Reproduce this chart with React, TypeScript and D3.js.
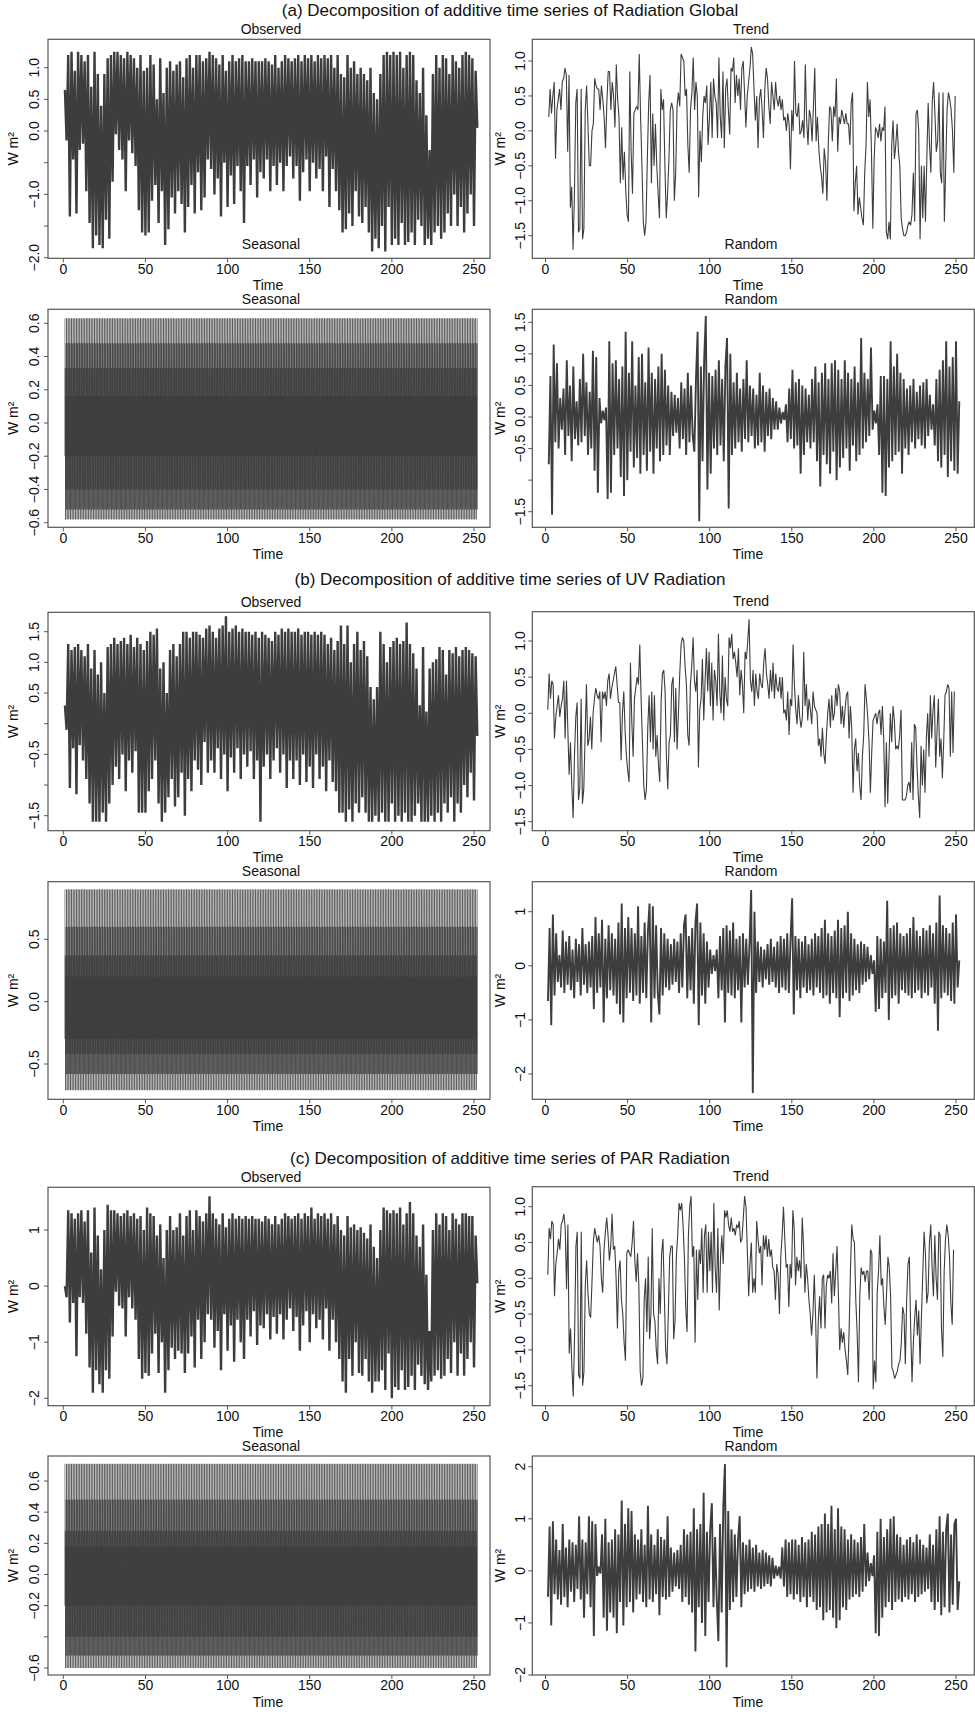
import React from "react";
import * as d3 from "d3";

const FONT = "'Liberation Sans', Arial, Helvetica, sans-serif";
const INK = "#3d3d3d";

const timeTicks = [0, 50, 100, 150, 200, 250];
const groupTitles = [
  "(a) Decomposition of additive time series of Radiation Global",
  "(b) Decomposition of additive time series of UV Radiation",
  "(c) Decomposition of additive time series of PAR Radiation",
];
const panelTitles = ["Observed", "Trend", "Seasonal", "Random"];

// ---------- (a) Radiation Global ----------
const obsA = [
  0.65,-0.15,1.2,-1.35,1.25,-0.45,0.95,-1.3,1.25,-0.3,
  1.2,-0.2,1.1,-0.95,1.2,-1.45,0.7,-1.85,1.25,-1.65,
  0.9,-1.8,0.4,-1.85,0.9,-1.4,1.15,-1.7,1.2,-0.8,
  1.25,-0.05,1.25,-0.3,1.2,-0.45,1.15,-0.95,1.25,-0.15,
  1.2,-0.35,1.15,-0.55,1.0,-1.25,1.2,-1.6,0.95,-1.65,
  1.0,-1.6,1.2,-1.1,1.05,-0.85,0.5,-1.45,1.15,-0.95,
  0.6,-1.8,1.0,-1.55,1.1,-1.05,0.95,-1.3,1.05,-0.95,
  1.1,-1.15,0.85,-1.6,1.15,-1.2,1.2,-0.85,1.0,-1.3,
  1.2,-0.65,1.2,-1.25,1.1,-1.05,1.15,-0.45,1.25,-0.6,
  1.2,-1.0,1.15,-0.75,1.05,-1.35,1.2,-0.5,0.95,-1.2,
  1.1,-0.7,1.2,-1.15,1.1,-0.55,1.15,-0.95,1.2,-1.45,
  1.1,-0.55,1.1,-0.85,1.15,-0.45,1.1,-1.05,1.1,-0.65,
  1.1,-0.75,1.15,-0.45,1.1,-0.95,1.05,-0.55,1.2,-0.85,
  1.0,-0.5,1.1,-0.95,1.2,-0.55,1.15,-0.4,1.1,-0.75,
  1.15,-0.55,1.2,-1.1,1.1,-0.65,1.2,-0.45,1.15,-0.95,
  1.2,-0.5,1.1,-0.75,1.2,-0.6,1.15,-0.95,1.2,-0.4,
  1.15,-1.2,1.2,-0.6,1.0,-0.95,1.2,-1.25,0.9,-1.6,
  0.85,-1.55,1.2,-1.3,1.0,-1.5,1.1,-0.95,0.9,-1.35,
  1.0,-1.45,0.9,-1.2,0.8,-1.6,1.0,-1.9,0.6,-1.7,
  0.5,-1.85,0.9,-1.5,1.2,-1.9,1.25,-1.2,1.2,-1.8,
  1.25,-1.7,1.2,-1.8,1.25,-1.45,1.0,-1.8,1.2,-1.75,
  1.25,-1.6,1.2,-1.8,0.8,-1.4,0.6,-1.5,1.0,-1.8,
  0.25,-1.7,-0.3,-1.8,0.9,-1.6,1.2,-1.5,1.0,-1.7,
  1.2,-1.6,1.15,-1.3,0.9,-1.5,1.2,-1.0,1.1,-1.5,
  1.0,-1.2,1.2,-1.6,1.25,-1.3,1.2,-1.0,1.15,-1.5,
  0.95,0.05,
];
const trendA = [
  0.2,0.6,0.25,0.5,0.7,-0.4,0.3,0.45,0.6,0.3,
  0.7,0.75,0.9,0.8,-0.3,0.8,-1.1,-0.8,-1.7,-0.9,
  0.4,0.6,-1.45,-1.4,0.6,-1.55,-1.4,0.3,0.65,0.1,
  -0.5,-0.5,0.0,0.1,0.75,0.65,0.6,0.6,0.3,0.65,
  0.45,0.2,-0.25,0.4,0.85,0.85,0.3,0.7,0.5,0.05,
  0.95,0.45,0.2,-0.75,0.05,-0.7,-0.3,-0.85,-1.2,-1.3,
  0.85,-0.3,-0.9,0.25,0.3,0.35,0.3,1.1,0.2,-0.5,
  -1.3,-1.5,-1.3,-0.4,0.4,0.8,-0.75,0.25,-0.5,0.1,
  -0.5,-0.9,-1.25,0.6,0.3,0.45,-0.5,-1.25,-0.9,-0.4,
  0.3,0.4,0.3,-1.0,-0.6,0.35,0.55,0.35,1.1,1.05,
  1.0,0.5,0.6,-0.2,-0.6,0.3,0.55,1.05,0.3,0.7,
  0.5,-0.95,0.0,-0.45,0.2,0.5,0.4,0.65,-0.2,0.2,
  0.7,-0.1,0.75,0.5,0.4,-0.1,1.05,0.2,-0.1,0.85,
  -0.25,0.6,0.75,0.3,-0.05,0.9,0.85,1.05,0.4,0.8,
  0.5,0.75,0.3,0.9,1.0,0.55,0.05,0.5,0.7,0.9,
  1.2,1.1,0.6,0.15,0.5,-0.25,0.45,0.6,0.3,-0.1,
  0.6,0.9,0.75,0.35,0.1,0.7,0.5,0.3,0.7,0.45,
  0.35,0.5,0.3,0.45,0.15,0.2,0.0,0.25,0.1,-0.55,
  0.3,0.0,1.0,0.25,0.2,0.4,-0.05,0.0,0.15,-0.1,
  0.95,0.15,-0.2,0.3,0.2,-0.15,0.35,0.9,-0.15,0.2,
  -0.25,-0.5,-0.65,-0.9,-0.25,-0.45,-1.0,-0.2,0.35,0.3,
  -0.15,0.35,0.2,0.75,-0.3,0.2,0.1,0.3,0.2,0.1,
  0.25,0.1,0.1,-0.2,0.4,0.55,-1.15,-0.75,-0.5,-1.2,
  -0.95,-1.1,-1.25,-1.35,-0.6,-0.2,0.7,0.2,0.45,-0.3,
  -1.4,-0.4,0.05,0.0,-0.1,0.1,-0.15,0.05,0.0,0.35,
  -1.45,-1.55,-1.3,-1.55,-0.2,0.15,-0.4,-0.2,0.1,-0.3,
  -0.5,-1.25,-1.4,-1.5,-1.5,-1.45,-1.35,-1.3,-1.35,-1.2,
  -0.6,-1.3,0.25,0.3,0.0,-1.55,-0.5,-1.25,-0.5,-1.3,
  -0.4,0.4,-0.2,-0.6,0.4,0.7,0.25,-0.3,-0.15,0.55,
  -0.6,-0.75,0.55,-1.3,-0.5,0.3,0.55,0.45,0.3,0.0,
  -0.6,0.5,
];
const seasonCycleA = [0.63, -0.2, 0.33, -0.58, 0.16, -0.4, 0.48, -0.52];
const randomA = [
  -0.75,0.65,-1.55,1.15,-0.4,0.85,-0.5,0.3,-0.2,0.45,
  -0.6,0.9,-0.3,0.5,-0.7,0.8,-0.35,0.25,-0.45,0.6,
  -0.4,1.0,-0.3,0.55,-0.6,0.4,-0.5,1.05,-0.85,0.95,
  -1.2,0.3,-0.1,0.1,-0.05,0.15,-1.3,1.2,-1.2,0.85,
  -0.6,0.9,-0.5,0.6,-0.95,0.8,-1.25,1.35,-1.0,0.7,
  -0.55,1.2,-0.8,0.5,-0.65,0.95,-0.9,1.0,-0.6,0.55,
  -0.85,1.1,-0.55,0.7,-0.9,0.6,-0.5,0.8,-0.7,1.0,
  -0.6,0.75,-0.45,0.5,-0.6,0.4,-0.3,0.35,-0.25,0.3,
  -0.5,0.55,-0.35,0.45,-0.6,0.7,-0.4,0.5,-0.3,-0.55,
  0.6,1.35,-1.65,0.8,-0.7,0.9,1.6,-1.15,0.7,-0.9,
  0.65,-0.5,0.75,-0.6,0.9,-0.45,0.6,-0.7,0.8,1.25,
  -1.45,1.0,-0.6,0.55,-0.5,0.7,-0.4,0.45,-0.55,0.6,
  -0.35,0.9,-0.4,0.5,-0.3,0.45,-0.5,0.35,-0.45,0.7,
  -0.4,0.5,-0.55,0.4,-0.3,0.45,-0.35,0.3,-0.2,0.25,
  -0.2,0.15,-0.1,0.08,-0.05,0.2,-0.4,0.45,-0.35,0.75,
  -0.5,0.55,-0.45,0.6,-0.9,0.5,-0.6,0.45,-0.4,0.35,
  -0.5,0.6,-0.4,0.8,-0.7,0.55,-1.1,0.7,-0.6,0.85,
  -0.75,0.6,-0.9,0.85,-0.55,0.9,-1.0,0.75,-0.8,0.6,
  -0.65,0.9,-0.5,0.7,-0.85,0.6,-0.45,0.8,-0.7,0.55,
  -0.6,1.25,-0.5,0.7,-0.4,0.6,-0.3,1.1,-0.2,0.1,
  -0.1,0.2,-0.6,0.65,-1.2,0.65,-1.25,0.6,-0.8,1.2,
  -0.7,0.8,-0.6,1.0,-0.55,0.7,-0.9,0.6,-0.5,0.45,
  -0.6,0.5,-0.4,0.6,-0.5,0.4,-0.35,0.5,-0.45,0.55,
  -0.5,0.6,-0.3,0.35,-0.2,0.2,-0.45,0.6,-0.7,0.75,
  -0.8,0.9,-0.6,1.2,-0.95,0.8,-0.7,0.95,-0.85,1.2,
  -0.9,0.25,
];

// ---------- (b) UV Radiation ----------
const obsB = [
  0.3,-0.1,1.3,-1.05,1.2,-0.4,1.25,-1.15,1.3,-0.35,
  1.2,-0.6,1.1,-0.9,1.3,-1.3,0.9,-1.6,1.2,-1.6,
  0.8,-1.6,1.0,-1.45,0.5,-1.6,1.25,-1.3,1.3,-1.0,
  1.4,-0.7,1.3,-0.9,1.35,-0.5,1.4,-1.1,1.3,-0.6,
  1.45,-0.8,1.25,-0.45,1.4,-1.45,1.3,-1.45,1.2,-1.45,
  1.35,-1.1,1.5,-0.9,1.45,-0.6,1.55,-1.3,0.9,-1.6,
  1.0,-1.45,0.5,-1.2,1.2,-0.9,1.3,-1.35,1.1,-1.2,
  1.3,-0.8,1.5,-1.5,1.5,-0.9,1.4,-1.1,1.5,-0.6,
  1.5,-0.75,1.45,-1.0,1.4,-0.3,1.55,-0.8,1.6,-0.6,
  1.5,-0.8,1.4,-0.4,1.55,-0.9,1.6,-0.5,1.75,-1.1,
  1.5,-0.55,1.55,-0.8,1.6,-0.4,1.5,-0.9,1.55,-0.5,
  1.5,-0.7,1.5,-0.45,1.45,-0.9,1.5,-0.6,1.4,-1.6,
  1.5,-0.7,1.45,-0.5,1.4,-0.9,1.35,-0.6,1.5,-0.4,
  1.45,-0.8,1.55,-0.5,1.5,-1.05,1.55,-0.6,1.5,-0.9,
  1.5,-0.6,1.55,-1.0,1.45,-0.5,1.5,-0.95,1.5,-0.7,
  1.45,-1.05,1.5,-0.5,1.45,-0.9,1.5,-0.7,1.45,-1.1,
  1.3,-0.6,1.4,-0.95,1.2,-1.1,1.35,-1.45,1.6,-1.45,
  1.3,-1.6,1.6,-1.4,1.0,-1.6,1.3,-1.3,1.5,-1.45,
  1.2,-1.2,1.35,-1.45,1.1,-1.6,0.6,-1.6,0.4,-1.5,
  0.6,-1.6,1.5,-1.45,1.3,-1.6,1.0,-1.6,1.25,-1.3,
  1.35,-1.6,1.4,-1.5,1.3,-1.6,1.35,-1.45,1.65,-1.6,
  1.3,-1.6,1.15,-1.5,0.9,-1.3,0.3,-1.6,1.25,-1.6,
  0.2,-1.6,0.9,-1.5,1.0,-1.6,1.05,-1.45,1.25,-1.6,
  1.2,-1.3,0.8,-1.45,1.2,-1.2,1.15,-1.6,1.25,-1.3,
  1.1,-1.45,1.2,-1.0,1.25,-1.2,1.2,-0.8,1.15,-1.25,
  1.1,-0.2,
];
const trendB = [
  0.05,0.55,0.2,0.45,0.4,-0.35,-0.05,0.1,0.25,-0.05,
  0.1,0.2,0.45,-0.35,0.45,-0.2,-0.85,-0.4,-1.0,-1.45,
  -0.6,-0.05,0.15,-1.2,-1.05,0.2,-1.25,-1.05,-0.3,0.4,
  -0.45,-0.35,-0.05,-0.5,0.0,0.2,0.35,0.25,0.2,0.3,
  -0.4,0.3,0.2,0.3,0.1,0.45,0.55,0.2,0.35,0.45,
  0.55,0.65,0.4,0.15,0.15,-0.65,0.0,0.3,-0.25,-0.6,
  -0.8,-0.95,0.7,-0.1,-0.6,0.2,0.35,0.5,0.4,0.95,
  0.2,-0.4,-1.0,-1.2,-1.05,-0.2,0.25,-0.4,0.3,-0.5,
  0.25,-0.6,-0.3,-0.7,-0.95,0.15,0.55,0.6,0.3,-0.6,
  -1.05,-0.4,-0.3,0.4,0.5,-0.4,0.35,-0.5,0.0,0.55,
  0.95,1.05,1.0,0.65,0.4,-0.3,-0.45,0.4,0.65,1.05,
  0.45,0.3,0.6,-0.75,0.05,0.2,0.75,-0.1,0.45,0.9,
  0.3,0.85,0.1,0.7,-0.1,0.6,0.45,0.1,1.1,0.3,
  0.0,0.8,-0.1,0.5,0.2,0.1,1.05,0.9,1.1,0.75,
  0.85,0.7,0.5,0.9,0.25,0.6,0.4,0.0,0.85,0.75,
  1.0,1.3,0.45,0.3,0.6,0.1,0.55,0.3,0.2,0.55,
  0.4,0.35,0.7,0.9,0.55,0.4,0.2,0.6,0.3,0.7,
  0.2,0.55,0.35,0.3,0.5,0.2,0.5,0.0,0.05,-0.1,
  0.3,-0.3,0.2,0.1,0.95,0.4,0.05,-0.15,0.25,-0.05,
  -0.2,-0.05,0.85,0.1,0.4,-0.1,0.2,0.05,-0.15,0.3,
  0.1,0.05,0.0,-0.45,-0.35,-0.6,-0.2,-0.55,-0.7,-0.3,
  0.0,0.2,-0.2,0.25,-0.1,0.0,0.35,0.1,0.4,0.3,
  -0.15,0.1,-0.2,0.05,0.25,0.3,-0.35,0.1,-0.2,-1.1,
  -0.5,-0.35,-0.8,-0.55,-1.0,-1.2,-0.6,-0.3,0.4,0.2,
  -0.05,-0.4,-1.1,-0.55,-0.1,-0.05,0.0,-0.15,0.0,0.05,
  -0.3,0.1,-0.35,-1.3,-0.4,-1.25,-0.6,0.0,-0.4,0.1,
  -0.1,-0.5,-0.45,-0.5,-0.3,0.05,-1.2,-1.2,-1.2,-1.15,
  -1.0,-0.95,-1.1,-0.4,-1.2,-0.15,-0.2,-0.75,-1.15,-1.45,
  -0.45,-1.0,-0.5,-1.1,-0.35,0.0,-0.6,0.25,-0.35,0.05,
  0.25,-0.75,-0.25,0.2,-0.6,-0.35,-0.9,-0.4,0.25,0.3,
  0.4,0.35,-0.6,0.3,-0.55,0.3,
];
const seasonCycleB = [0.9, -0.3, 0.37, -0.71, 0.2, -0.42, 0.6, -0.58];
const randomB = [
  -0.65,0.7,-1.1,0.95,-0.55,0.6,-0.3,0.2,-0.4,0.65,
  -0.5,0.45,-0.35,0.55,-0.45,0.3,-0.6,0.5,-0.3,0.4,
  -0.55,0.7,-0.35,0.4,-0.5,0.45,-0.4,0.55,-0.8,0.9,
  -0.5,0.6,-0.4,0.85,-1.05,0.5,-0.6,0.75,-0.45,0.6,
  -0.55,0.5,-0.7,0.8,-0.9,1.15,-1.05,0.7,-0.6,0.9,
  -0.5,0.7,-0.65,0.6,-0.55,1.1,-0.7,0.55,-0.5,0.8,
  -0.6,0.65,1.15,-1.05,1.1,-0.6,0.75,-0.5,-0.9,0.7,
  -0.55,0.6,-0.4,0.5,-0.45,0.4,-0.35,0.5,-0.3,0.45,
  -0.5,0.6,-0.4,0.75,0.95,-0.6,0.55,-0.45,0.7,-0.7,
  0.8,1.15,-1.1,0.8,-0.55,0.6,-0.7,0.45,-0.4,0.3,
  -0.15,0.2,-0.1,0.3,-0.6,0.55,-0.45,0.7,-1.05,0.75,
  -0.5,0.65,-0.55,0.8,-0.6,0.5,-0.45,0.55,-1.05,0.6,
  -0.4,0.5,-0.35,0.4,1.4,-2.35,1.0,-0.5,0.45,-0.3,
  0.35,-0.4,0.3,-0.25,0.4,-0.35,0.5,-0.3,0.35,-0.4,
  0.45,-0.5,0.55,-0.4,0.5,-0.45,0.6,-0.5,0.45,1.25,
  -0.9,0.55,-0.45,0.5,-0.6,0.45,-0.4,0.55,-0.5,0.4,
  -0.45,0.5,-0.55,0.6,-0.4,0.55,-0.5,0.7,-0.6,0.85,
  -0.55,0.6,-0.7,0.55,-0.5,0.65,-0.6,0.85,-0.95,0.7,
  -0.6,0.75,-0.5,1.0,-0.65,0.6,-0.55,0.5,-0.45,0.4,
  -0.5,0.45,-0.35,0.4,-0.3,0.35,-0.25,0.2,-0.15,0.1,
  -0.85,0.55,-0.8,0.5,-0.6,0.45,-0.5,1.2,-1.0,0.7,
  -0.6,0.75,-0.55,0.8,-0.7,0.6,-0.45,0.55,-0.5,0.6,
  -0.55,0.7,-0.6,0.9,-0.5,0.65,-0.45,0.55,-0.6,0.7,
  -0.5,0.65,-0.55,0.75,-0.4,0.6,-0.7,0.8,-1.2,1.3,
  -0.6,0.75,-0.5,0.7,-0.55,0.6,-0.65,0.8,-0.7,0.95,
  -0.4,0.1,
];

// ---------- (c) PAR Radiation ----------
const obsC = [
  0.0,-0.2,1.35,-0.65,1.3,-0.3,1.2,-1.25,1.3,-0.2,
  1.35,-0.3,1.15,-0.85,1.35,-1.45,0.6,-1.9,1.4,-1.5,
  0.9,-1.75,0.3,-1.9,1.0,-1.5,1.45,-1.65,1.35,-0.9,
  1.35,-0.1,1.3,-0.35,1.25,-0.4,1.3,-0.9,1.35,-0.2,
  1.25,-0.4,1.3,-0.6,1.2,-1.3,1.25,-1.65,1.0,-1.55,
  1.4,-1.6,1.3,-1.2,1.25,-0.85,0.9,-1.55,1.1,-1.0,
  0.5,-1.9,1.0,-1.5,1.25,-1.1,1.0,-1.3,1.05,-1.15,
  1.3,-1.2,0.9,-1.55,1.25,-1.2,1.35,-0.9,1.0,-1.45,
  1.35,-0.6,1.25,-1.3,1.15,-1.0,1.3,-0.5,1.6,-0.6,
  1.3,-1.1,1.2,-0.8,1.1,-1.5,1.3,-0.5,1.05,-1.15,
  1.2,-0.7,1.3,-1.35,1.2,-0.6,1.25,-1.0,1.2,-1.3,
  1.25,-0.6,1.2,-0.9,1.25,-0.45,1.2,-1.05,1.2,-0.7,
  1.15,-0.75,1.25,-0.5,1.2,-0.95,1.1,-0.55,1.25,-0.85,
  1.1,-0.5,1.2,-0.95,1.3,-0.6,1.25,-0.4,1.2,-0.8,
  1.25,-0.55,1.3,-1.15,1.2,-0.7,1.3,-0.45,1.25,-1.0,
  1.4,-0.5,1.2,-0.75,1.3,-0.6,1.25,-0.95,1.3,-0.4,
  1.2,-1.15,1.3,-0.6,1.1,-1.0,1.25,-1.3,1.0,-1.7,
  0.9,-1.9,1.25,-1.3,1.05,-1.6,1.1,-1.0,1.0,-1.55,
  1.05,-1.6,0.95,-1.3,0.85,-1.7,1.1,-1.9,0.7,-1.7,
  0.5,-1.7,1.0,-1.5,1.4,-1.85,1.35,-1.2,1.3,-2.0,
  1.35,-1.8,1.3,-1.85,1.4,-1.5,1.1,-1.85,1.3,-1.8,
  1.5,-1.6,1.3,-1.85,0.9,-1.4,0.7,-1.6,1.1,-1.75,
  0.2,-1.85,-0.8,-1.7,1.0,-1.6,1.3,-1.5,1.1,-1.65,
  1.3,-1.6,1.25,-1.3,1.0,-1.55,1.3,-1.0,1.2,-1.6,
  1.1,-1.2,1.3,-1.6,1.3,-1.3,1.25,-1.0,1.25,-1.45,
  0.9,0.05,
];
const trendC = [
  0.05,0.7,0.55,0.8,0.75,-0.25,0.2,0.35,0.55,0.4,
  0.75,0.8,0.9,0.7,-0.15,0.75,-1.05,-0.7,-1.25,-1.65,
  -0.8,0.45,0.65,-1.35,-1.4,0.65,-1.5,-1.3,-0.1,0.25,
  -0.2,-0.5,-0.55,-0.05,0.5,0.7,0.6,0.5,0.6,0.45,
  0.0,-0.2,0.4,0.65,0.85,0.6,0.25,0.45,0.9,0.4,
  0.45,0.0,-0.7,0.1,0.25,-0.3,-0.5,-0.9,-1.15,0.35,
  0.4,0.35,0.3,0.5,0.8,0.25,-0.05,0.35,-0.1,-1.3,
  -1.5,-1.4,-0.3,0.0,-0.75,0.3,-0.85,-0.5,0.7,-0.5,
  -0.6,-1.0,-1.2,0.0,-0.5,0.35,0.55,-0.2,-1.0,-1.2,
  -0.5,0.3,0.45,0.45,-0.85,-0.6,0.3,0.6,1.05,0.95,
  1.05,0.75,0.3,-0.4,-0.75,0.6,1.0,1.15,0.3,0.45,
  -0.9,0.4,-0.3,0.4,0.2,0.7,-0.2,0.6,0.75,-0.2,
  0.65,0.1,0.65,-0.2,1.05,0.15,-0.2,0.7,-0.45,0.3,
  0.6,0.2,0.95,0.85,0.95,0.75,0.65,0.85,0.65,0.7,
  0.6,0.75,0.7,0.8,0.5,0.55,0.85,1.15,1.0,0.4,
  -0.25,0.2,0.5,-0.2,0.0,-0.2,0.8,0.55,0.35,0.45,
  -0.1,0.6,0.4,0.6,0.3,0.55,0.3,0.4,0.15,0.1,
  -0.3,0.2,0.05,-0.5,0.3,0.6,1.0,0.55,0.15,0.2,
  -0.4,0.2,0.0,0.95,0.7,-0.1,0.3,0.1,0.25,0.0,
  0.85,0.45,-0.2,0.2,0.0,-0.3,-0.5,-0.8,-0.5,0.05,
  -0.55,-1.4,-0.6,-0.25,-0.7,0.0,0.05,-0.7,-0.1,0.05,
  0.0,0.1,-0.35,0.35,-0.25,0.1,0.45,-0.2,-1.0,-0.7,
  -0.9,-0.75,-1.0,-1.15,-1.35,-0.75,0.1,0.75,0.55,0.5,
  -0.3,-0.75,-1.45,-0.25,0.15,0.05,0.1,-0.05,0.1,0.1,
  -0.3,0.4,0.35,-1.55,-1.15,-1.45,-0.2,0.1,0.6,-0.1,
  0.0,-0.4,-0.65,-0.2,0.3,0.15,-0.25,-1.25,-1.3,-1.4,
  -1.35,-1.3,-1.2,-1.15,-0.9,-0.4,-0.5,-1.2,-0.3,0.2,
  0.3,-0.7,-1.45,-0.9,-0.55,-0.3,-0.8,-0.45,-1.2,-0.55,
  0.05,0.65,0.35,-0.35,-0.2,0.5,0.75,0.15,-0.25,0.6,
  0.0,-0.3,0.65,0.6,-0.7,-1.1,0.1,0.55,0.75,0.6,
  0.3,-0.35,-0.65,0.4,
];
const seasonCycleC = [0.71, -0.2, 0.28, -0.6, 0.18, -0.4, 0.48, -0.52];
const randomC = [
  -0.5,0.85,-1.05,0.95,-0.45,0.6,-0.55,0.4,-0.65,0.9,
  -0.5,0.45,-0.7,0.6,-0.4,0.55,-0.6,0.5,-0.35,1.05,
  -0.55,0.6,-0.9,0.55,-0.45,1.05,-0.7,0.95,-1.25,0.9,
  -0.1,0.08,-0.05,0.7,-0.9,1.0,-1.15,0.55,-0.8,0.6,
  -0.9,0.8,-1.2,0.7,-0.6,1.35,-1.05,0.9,-0.7,1.2,
  -0.6,1.15,-0.8,0.7,-0.55,0.6,-0.45,0.8,-0.6,0.5,
  -0.7,1.25,-0.55,0.7,-0.6,0.5,-0.45,0.8,-0.85,0.65,
  -0.5,0.6,-0.55,1.05,-0.5,0.45,-0.4,0.35,-0.3,0.4,
  -0.35,0.5,-0.6,0.8,-0.5,0.7,-0.65,0.75,-0.8,1.2,
  -1.55,0.8,-0.7,0.9,-1.0,1.5,-1.25,0.75,-0.6,0.8,
  1.3,-0.7,0.65,-0.55,-1.35,0.9,-0.8,1.25,2.05,-1.85,
  1.15,-0.75,0.8,-0.6,0.7,-0.5,0.6,1.05,-0.7,0.55,
  -0.45,0.5,-0.4,0.6,-0.35,0.45,-0.4,0.5,-0.3,0.35,
  -0.35,0.4,-0.3,0.35,-0.25,0.3,-0.3,0.25,-0.15,0.1,
  -0.1,0.08,-0.15,0.45,-0.3,0.6,-0.5,0.55,-0.45,0.6,
  -0.55,0.6,-0.45,0.5,-0.6,0.65,-0.5,0.55,-0.7,0.6,
  -0.5,0.75,-0.6,0.7,-0.75,0.85,-0.7,0.9,-0.95,1.1,
  -0.8,0.9,-0.75,1.25,-0.9,0.8,-1.1,1.2,-0.95,0.85,
  -0.7,0.8,-0.75,0.6,-0.55,0.7,-0.5,0.6,-0.45,0.55,
  -0.5,0.65,-0.4,0.9,-0.3,0.35,-0.2,0.15,-0.1,0.3,
  -1.2,0.75,-1.25,1.0,-0.9,0.65,-0.7,0.8,-0.6,1.0,
  -0.75,1.05,-0.6,0.7,-0.55,0.65,-0.6,0.5,-0.5,0.6,
  -0.55,0.65,-0.45,0.55,-0.6,0.7,-0.5,0.6,-0.45,0.5,
  -0.4,0.45,-0.35,0.7,-0.6,0.5,-0.75,0.8,-0.6,1.05,
  -0.85,0.75,-0.7,0.8,1.1,-0.8,0.7,-0.65,0.9,1.0,
  -0.75,-0.2,
];

// y tick sets (values) and which ones carry a label
const ticksObsA = [-2, -1.5, -1, -0.5, 0, 0.5, 1];
const labelsObsA = [-2, -1, 0, 0.5, 1];
const ticksTrend = [-1.5, -1, -0.5, 0, 0.5, 1];
const ticksSeasA = [-0.6, -0.4, -0.2, 0, 0.2, 0.4, 0.6];
const ticksRandA = [-1.5, -1, -0.5, 0, 0.5, 1, 1.5];
const labelsRandA = [-1.5, -0.5, 0, 0.5, 1, 1.5];
const ticksObsB = [-1.5, -1, -0.5, 0, 0.5, 1, 1.5];
const labelsObsB = [-1.5, -0.5, 0.5, 1, 1.5];
const ticksSeasB = [-0.5, 0, 0.5];
const ticksRandB = [-2, -1, 0, 1];
const ticksObsC = [-2, -1, 0, 1];
const ticksSeasC = [-0.6, -0.4, -0.2, 0, 0.2, 0.4, 0.6];
const labelsSeasC = [-0.6, -0.2, 0, 0.2, 0.4, 0.6];
const ticksRandC = [-2, -1, 0, 1, 2];

type Series =
  | { kind: "even"; values: number[]; t0: number; t1: number; width: number }
  | { kind: "cycle"; cycle: number[]; days: number; width: number };

interface PanelDef {
  col: 0 | 1;
  y0: number;
  y1: number;
  yRef: [number, number, number, number];
  ticks: number[];
  labels?: number[];
  dec: number;
  title: string;
  series: Series;
  inner?: string;
}

const COLS = [
  { x0: 48, x1: 490, tx: [63.3, 474], tickOff: 14, labOff: 35.5, cx: 271 },
  { x0: 532.3, x1: 974.3, tx: [545.5, 956], tickOff: 12.7, labOff: 32.4, cx: 751 },
];

const minus = (s: string) => s.replace("-", "\u2212");

function buildPoints(s: Series): [number, number][] {
  if (s.kind === "even") {
    const n = s.values.length;
    return s.values.map((v, i) => [s.t0 + (i * (s.t1 - s.t0)) / (n - 1), v]);
  }
  const pts: [number, number][] = [];
  const K = s.cycle.length;
  for (let d = 0; d < s.days; d++) {
    for (let k = 0; k < K; k++) pts.push([1 + d + k / K, s.cycle[k]]);
  }
  pts.push([1 + s.days, s.cycle[0]]);
  return pts;
}

function Panel({ p, id }: { p: PanelDef; id: string }) {
  const c = COLS[p.col];
  const x = d3.scaleLinear().domain([0, 250]).range(c.tx);
  const y = d3.scaleLinear().domain([p.yRef[0], p.yRef[2]]).range([p.yRef[1], p.yRef[3]]);
  const pts = buildPoints(p.series);
  const line = d3
    .line<[number, number]>()
    .x((d) => x(d[0]))
    .y((d) => y(d[1]));
  const labelSet = p.labels ?? p.ticks;
  const fmt = (v: number) => minus(v.toFixed(p.dec));
  const cy = (p.y0 + p.y1) / 2;
  return (
    <g>
      <defs>
        <clipPath id={id}>
          <rect x={c.x0} y={p.y0} width={c.x1 - c.x0} height={p.y1 - p.y0} />
        </clipPath>
      </defs>
      <path
        d={line(pts) ?? ""}
        fill="none"
        stroke={INK}
        strokeWidth={p.series.width}
        strokeLinejoin="bevel"
        clipPath={`url(#${id})`}
      />
      <rect x={c.x0} y={p.y0} width={c.x1 - c.x0} height={p.y1 - p.y0} fill="none" stroke="#555" strokeWidth={1.2} />
      {p.ticks.map((t) => (
        <line key={"yt" + t} x1={c.x0 - 4} x2={c.x0} y1={y(t)} y2={y(t)} stroke="#555" strokeWidth={1} />
      ))}
      {labelSet.map((t) => (
        <text
          key={"yl" + t}
          transform={`translate(${c.x0 - c.tickOff},${y(t)}) rotate(-90)`}
          textAnchor="middle"
          dominantBaseline="central"
          fontSize={14}
          fontFamily={FONT}
          fill="#111"
        >
          {fmt(t)}
        </text>
      ))}
      <text
        transform={`translate(${c.x0 - c.labOff},${cy}) rotate(-90)`}
        textAnchor="middle"
        dominantBaseline="central"
        fontSize={14}
        fontFamily={FONT}
        fill="#111"
      >
        W m²
      </text>
      {timeTicks.map((t) => (
        <g key={"xt" + t}>
          <line x1={x(t)} x2={x(t)} y1={p.y1} y2={p.y1 + 4} stroke="#555" strokeWidth={1} />
          <text
            x={x(t)}
            y={p.y1 + 10.3}
            textAnchor="middle"
            dominantBaseline="central"
            fontSize={14}
            fontFamily={FONT}
            fill="#111"
          >
            {t}
          </text>
        </g>
      ))}
      <text x={c.cx - 3} y={p.y1 + 26.5} textAnchor="middle" dominantBaseline="central" fontSize={14} fontFamily={FONT} fill="#111">
        Time
      </text>
      <text x={c.cx} y={p.y0 - 10.5} textAnchor="middle" dominantBaseline="central" fontSize={14} fontFamily={FONT} fill="#111">
        {p.title}
      </text>
      {p.inner && (
        <text x={c.cx} y={p.y1 - 14} textAnchor="middle" dominantBaseline="central" fontSize={14} fontFamily={FONT} fill="#111">
          {p.inner}
        </text>
      )}
    </g>
  );
}

const OBS_W = 2.4;
const RAND_W = 1.9;

const panels: PanelDef[] = [
  { col: 0, y0: 39.3, y1: 258.3, yRef: [1, 67.7, -2, 257.7], ticks: ticksObsA, labels: labelsObsA, dec: 1, title: panelTitles[0], inner: panelTitles[2],
    series: { kind: "even", values: obsA, t0: 1, t1: 252, width: OBS_W } },
  { col: 1, y0: 39.3, y1: 258.3, yRef: [1, 61, -1.5, 235.7], ticks: ticksTrend, dec: 1, title: panelTitles[1], inner: panelTitles[3],
    series: { kind: "even", values: trendA, t0: 2, t1: 249.5, width: 1.1 } },
  { col: 0, y0: 309.3, y1: 527.3, yRef: [0.6, 323.3, -0.6, 522.7], ticks: ticksSeasA, dec: 1, title: panelTitles[2],
    series: { kind: "cycle", cycle: seasonCycleA, days: 251, width: 0.6 } },
  { col: 1, y0: 309.3, y1: 527.3, yRef: [1.5, 322.3, -1.5, 511.7], ticks: ticksRandA, labels: labelsRandA, dec: 1, title: panelTitles[3],
    series: { kind: "even", values: randomA, t0: 2, t1: 252, width: RAND_W } },
  { col: 0, y0: 612.3, y1: 830.7, yRef: [1.5, 631.7, -1.5, 815.7], ticks: ticksObsB, labels: labelsObsB, dec: 1, title: panelTitles[0],
    series: { kind: "even", values: obsB, t0: 1, t1: 252, width: OBS_W } },
  { col: 1, y0: 611.7, y1: 830.7, yRef: [1, 641, -1.5, 821.7], ticks: ticksTrend, dec: 1, title: panelTitles[1],
    series: { kind: "even", values: trendB, t0: 1.4, t1: 249, width: 1.1 } },
  { col: 0, y0: 881.7, y1: 1099.3, yRef: [0.5, 939.3, -0.5, 1064], ticks: ticksSeasB, dec: 1, title: panelTitles[2],
    series: { kind: "cycle", cycle: seasonCycleB, days: 251, width: 0.6 } },
  { col: 1, y0: 881.7, y1: 1099.3, yRef: [1, 911.7, -2, 1074], ticks: ticksRandB, dec: 0, title: panelTitles[3],
    series: { kind: "even", values: randomB, t0: 1.5, t1: 252, width: RAND_W } },
  { col: 0, y0: 1187.3, y1: 1405.7, yRef: [1, 1230, -2, 1398.3], ticks: ticksObsC, dec: 0, title: panelTitles[0],
    series: { kind: "even", values: obsC, t0: 1, t1: 252, width: OBS_W } },
  { col: 1, y0: 1186.7, y1: 1405.7, yRef: [1, 1206.7, -1.5, 1385.7], ticks: ticksTrend, dec: 1, title: panelTitles[1],
    series: { kind: "even", values: trendC, t0: 1.4, t1: 248.5, width: 1.1 } },
  { col: 0, y0: 1456, y1: 1675, yRef: [0.6, 1481, -0.6, 1668], ticks: ticksSeasC, labels: labelsSeasC, dec: 1, title: panelTitles[2],
    series: { kind: "cycle", cycle: seasonCycleC, days: 251, width: 0.6 } },
  { col: 1, y0: 1456, y1: 1675, yRef: [2, 1466.7, -2, 1675], ticks: ticksRandC, dec: 0, title: panelTitles[3],
    series: { kind: "even", values: randomC, t0: 1.5, t1: 252, width: RAND_W } },
];

const groupTitleY = [10.5, 579, 1158.3];

export default function App() {
  return (
    <svg
      width={975}
      height={1724}
      viewBox="0 0 975 1724"
      style={{ position: "absolute", left: 0, top: 0, background: "#fff" }}
    >
      <rect x={0} y={0} width={975} height={1724} fill="#fff" />
      {groupTitles.map((t, i) => (
        <text
          key={t}
          x={510}
          y={groupTitleY[i]}
          textAnchor="middle"
          dominantBaseline="central"
          fontSize={17}
          fontFamily={FONT}
          fill="#111"
        >
          {t}
        </text>
      ))}
      {panels.map((p, i) => (
        <Panel key={i} p={p} id={"clip" + i} />
      ))}
    </svg>
  );
}
